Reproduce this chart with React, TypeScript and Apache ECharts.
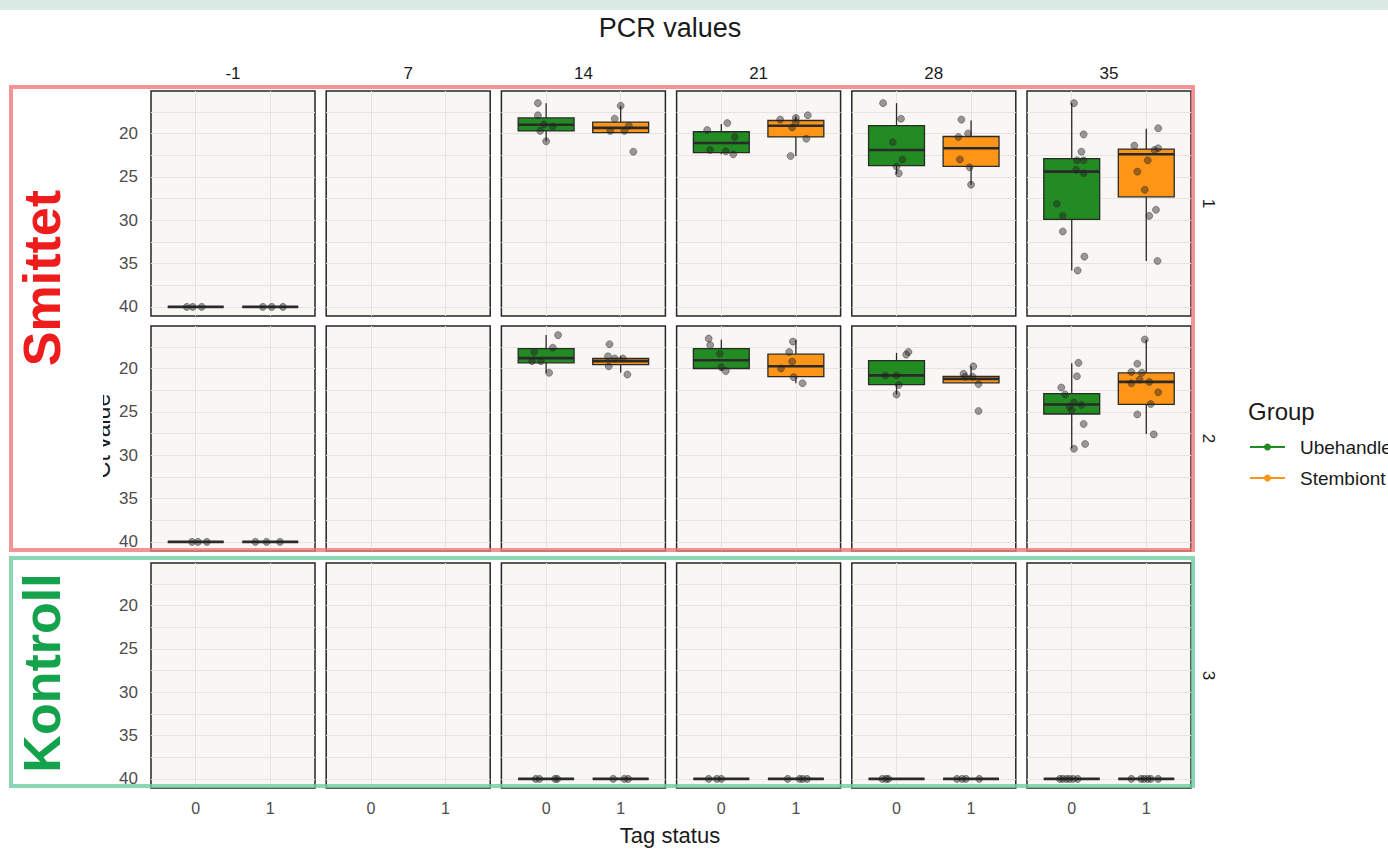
import React, { useEffect, useRef } from 'react';
import * as echarts from 'echarts';

// ---------- data ----------
const days = ['-1', '7', '14', '21', '28', '35'];
const rowLabels = ['1', '2', '3'];
const tagStatus = [0, 1];
const groups = ['Ubehandlet', 'Stembiont'];
const yTickLabels = [20, 25, 30, 35, 40];
const yGridValues = [17.5, 20, 22.5, 25, 27.5, 30, 32.5, 35, 37.5, 40];

// box stats per day: [min, q1, median, q3, max]
const row1Ubehandlet = [[40, 40, 40, 40, 40], null, [16.5, 18.2, 19.0, 19.7, 20.9], [18.9, 19.8, 21.1, 22.2, 22.4], [16.5, 19.1, 21.9, 23.7, 24.7], [16.5, 22.9, 24.4, 29.9, 35.8]];
const row1Stembiont = [[40, 40, 40, 40, 40], null, [16.8, 18.7, 19.35, 19.9, 19.9], [18.0, 18.5, 19.1, 20.4, 22.6], [18.5, 20.35, 21.7, 23.8, 25.9], [19.45, 21.8, 22.4, 27.3, 34.7]];
const row2Ubehandlet = [[40, 40, 40, 40, 40], null, [16.15, 17.7, 18.8, 19.35, 20.5], [16.7, 17.7, 19.05, 20.0, 20.3], [18.2, 19.1, 20.8, 21.85, 23.0], [19.4, 22.9, 24.15, 25.25, 29.2]];
const row2Stembiont = [[40, 40, 40, 40, 40], null, [18.6, 18.85, 19.15, 19.55, 20.5], [16.7, 18.35, 19.75, 20.95, 21.7], [19.75, 20.9, 21.2, 21.65, 21.65], [16.65, 20.5, 21.55, 24.15, 27.55]];
const row3Ubehandlet = [null, null, [40, 40, 40, 40, 40], [40, 40, 40, 40, 40], [40, 40, 40, 40, 40], [40, 40, 40, 40, 40]];
const row3Stembiont = [null, null, [40, 40, 40, 40, 40], [40, 40, 40, 40, 40], [40, 40, 40, 40, 40], [40, 40, 40, 40, 40]];

// jittered points per day: [x jitter, Ct value]
const row1UbehandletPts = [
  [[-0.12, 40], [-0.04, 40], [0.08, 40]],
  [],
  [[-0.11, 16.5], [-0.11, 17.9], [-0.03, 18.95], [0.09, 19.2], [-0.08, 19.7], [0, 20.9]],
  [[-0.19, 19.6], [0.08, 18.8], [0.18, 20.4], [-0.15, 21.9], [0.06, 22.05], [0.16, 22.4]],
  [[-0.18, 16.5], [0.06, 18.3], [-0.05, 21.0], [0.08, 23.0], [0, 23.8], [0.03, 24.6]],
  [[0.03, 16.5], [0.16, 20.1], [0.13, 22.1], [0.07, 23.1], [0.16, 23.1], [0.06, 24.2], [0.16, 24.6], [-0.2, 28.1], [-0.12, 29.5], [-0.12, 31.3], [0.17, 34.2], [0.08, 35.8]],
];
const row1StembiontPts = [
  [[-0.1, 40], [0.02, 40], [0.17, 40]],
  [],
  [[0, 16.8], [-0.08, 18.3], [0.11, 19.1], [-0.14, 19.7], [0.05, 19.7], [0.17, 22.1]],
  [[-0.21, 18.4], [0, 18.2], [0.16, 17.9], [-0.05, 19.3], [0, 18.7], [0.14, 20.6], [-0.07, 22.6]],
  [[-0.13, 18.4], [-0.04, 20.0], [-0.17, 20.4], [-0.15, 23.0], [-0.02, 23.9], [0, 25.9]],
  [[0.16, 19.4], [-0.16, 21.4], [0.16, 21.7], [0.11, 21.9], [0.02, 23.1], [-0.12, 24.4], [-0.02, 26.5], [0.13, 28.8], [0.04, 29.5], [0.15, 34.7]],
];
const row2UbehandletPts = [
  [[-0.05, 40], [0.03, 40], [0.15, 40]],
  [],
  [[0.16, 16.15], [0.09, 17.6], [-0.16, 18.1], [-0.19, 19.15], [-0.07, 19.15], [0.04, 20.5]],
  [[-0.17, 16.55], [-0.15, 17.3], [-0.02, 18.3], [0, 19.85], [0.06, 20.3]],
  [[0.13, 18.4], [0.16, 18.1], [-0.15, 20.8], [0, 20.8], [0.03, 21.9], [0, 23.0]],
  [[0.09, 19.35], [0.07, 20.9], [-0.14, 22.2], [-0.09, 23.0], [0.03, 23.9], [0.13, 24.2], [-0.03, 24.4], [0, 24.8], [0.16, 26.4], [0.18, 28.7], [0.03, 29.25]],
];
const row2StembiontPts = [
  [[-0.2, 40], [-0.05, 40], [0.13, 40]],
  [],
  [[-0.15, 17.2], [-0.17, 18.6], [-0.08, 18.85], [0.03, 18.85], [-0.16, 19.75], [0.09, 20.7]],
  [[-0.04, 16.9], [-0.09, 18.1], [-0.05, 19.2], [-0.2, 20.0], [-0.03, 21.0], [0.09, 21.7]],
  [[0.03, 19.75], [-0.1, 20.6], [-0.08, 20.95], [0.02, 20.95], [0.1, 21.8], [0.1, 24.9]],
  [[-0.02, 16.65], [-0.12, 19.45], [-0.2, 20.4], [-0.06, 20.5], [-0.09, 21.3], [-0.2, 21.7], [0.04, 21.55], [0.16, 22.75], [0.06, 24.1], [-0.12, 25.3], [0.1, 27.6]],
];
const row3UbehandletPts = [
  [], [],
  [[-0.14, 40], [-0.09, 40], [0.12, 40], [0.15, 40]],
  [[-0.17, 40], [-0.06, 40], [0, 40]],
  [[-0.19, 40], [-0.14, 40], [-0.11, 40]],
  [[-0.16, 40], [-0.12, 40], [-0.07, 40], [-0.03, 40], [0.02, 40], [0.08, 40]],
];
const row3StembiontPts = [
  [], [],
  [[-0.1, 40], [0.05, 40], [0.1, 40]],
  [[-0.11, 40], [0.05, 40], [0.09, 40], [0.15, 40]],
  [[-0.19, 40], [-0.12, 40], [-0.07, 40], [0.11, 40]],
  [[-0.2, 40], [-0.07, 40], [-0.03, 40], [0.02, 40], [0.06, 40], [0.16, 40]],
];

const boxesByRow = [[row1Ubehandlet, row1Stembiont], [row2Ubehandlet, row2Stembiont], [row3Ubehandlet, row3Stembiont]];
const ptsByRow = [[row1UbehandletPts, row1StembiontPts], [row2UbehandletPts, row2StembiontPts], [row3UbehandletPts, row3StembiontPts]];

// ---------- styles / layout ----------
const FONT = 'Liberation Sans, Arial, sans-serif';
const groupColors = ['#228B22', '#FF9516'];
const PANEL_LEFT = 151;
const PANEL_STEP = 175.2;
const PANEL_W = 164;
const PANEL_H = 225;
const ROW_TOPS = [91, 326, 563];
const Y_MIN = 15.1;
const Y_MAX = 41.05;

function buildOption() {
  const grid: any[] = [];
  const xAxis: any[] = [];
  const yAxis: any[] = [];
  const series: any[] = [];

  rowLabels.forEach((_, r) => {
    days.forEach((_, c) => {
      const gi = r * days.length + c;
      grid.push({
        left: PANEL_LEFT + PANEL_STEP * c,
        top: ROW_TOPS[r],
        width: PANEL_W,
        height: PANEL_H,
        show: true,
        backgroundColor: '#F9F7F4',
        borderColor: '#262626',
        borderWidth: 1.5,
        z: 0,
      });
      xAxis.push({
        type: 'value',
        gridIndex: gi,
        min: -0.6,
        max: 1.6,
        axisLine: { show: false },
        axisTick: { show: false, customValues: tagStatus },
        axisLabel: {
          show: r === rowLabels.length - 1,
          customValues: tagStatus,
          color: '#4D4D4D',
          fontSize: 16,
          fontFamily: FONT,
          margin: 12,
        },
        splitLine: { show: true, lineStyle: { color: '#E6E4E0', width: 1 } },
      });
      yAxis.push({
        type: 'value',
        gridIndex: gi,
        inverse: true,
        min: Y_MIN,
        max: Y_MAX,
        axisLine: { show: false },
        axisTick: { show: false, customValues: yGridValues },
        axisLabel: {
          show: c === 0,
          customValues: yTickLabels,
          color: '#4D4D4D',
          fontSize: 17,
          fontFamily: FONT,
          margin: 13,
        },
        splitLine: { show: true, lineStyle: { color: '#E6E4E0', width: 1 } },
      });

      tagStatus.forEach((t) => {
        const b = boxesByRow[r][t][c];
        if (b) {
          series.push({
            type: 'custom',
            name: groups[t],
            xAxisIndex: gi,
            yAxisIndex: gi,
            z: 2,
            encode: { x: 0, y: [1, 2, 3, 4, 5] },
            data: [[t, b[0], b[1], b[2], b[3], b[4]]],
            renderItem: (params: any, api: any) => {
              const x = api.value(0);
              const lo = api.coord([x, api.value(1)]);
              const q1 = api.coord([x, api.value(2)]);
              const md = api.coord([x, api.value(3)]);
              const q3 = api.coord([x, api.value(4)]);
              const hi = api.coord([x, api.value(5)]);
              const w = api.size([0.75, 0])[0];
              const left = q1[0] - w / 2;
              const stroke = '#2a2a2a';
              return {
                type: 'group',
                children: [
                  { type: 'line', shape: { x1: lo[0], y1: lo[1], x2: q1[0], y2: q1[1] }, style: { stroke, lineWidth: 1.3 } },
                  { type: 'line', shape: { x1: q3[0], y1: q3[1], x2: hi[0], y2: hi[1] }, style: { stroke, lineWidth: 1.3 } },
                  {
                    type: 'rect',
                    shape: { x: left, y: Math.min(q1[1], q3[1]), width: w, height: Math.abs(q3[1] - q1[1]) },
                    style: { fill: groupColors[t], stroke, lineWidth: 1.3 },
                  },
                  { type: 'line', shape: { x1: left, y1: md[1], x2: left + w, y2: md[1] }, style: { stroke, lineWidth: 2.6 } },
                ],
              };
            },
          });
        }
        const pts = ptsByRow[r][t][c];
        if (pts.length) {
          series.push({
            type: 'scatter',
            name: groups[t] + ' points',
            xAxisIndex: gi,
            yAxisIndex: gi,
            z: 3,
            symbol: 'circle',
            symbolSize: 7,
            itemStyle: { color: 'rgba(30,30,30,0.55)', borderColor: 'rgba(50,50,50,0.7)', borderWidth: 0.8 },
            data: pts.map((p) => [t + p[0], p[1]]),
          });
        }
      });
    });
  });

  const graphic: any[] = [];
  // top band
  graphic.push({ type: 'rect', shape: { x: 0, y: 0, width: 1388, height: 10 }, style: { fill: '#DCEAE6' }, z: 1 });
  // title
  graphic.push({
    type: 'text', x: 670, y: 28, z: 10,
    style: { text: 'PCR values', fontSize: 27, fontFamily: FONT, fill: '#1a1a1a', align: 'center', verticalAlign: 'middle' },
  });
  // x title
  graphic.push({
    type: 'text', x: 670, y: 835, z: 10,
    style: { text: 'Tag status', fontSize: 22, fontFamily: FONT, fill: '#1a1a1a', align: 'center', verticalAlign: 'middle' },
  });
  // column strips
  days.forEach((d, c) => {
    graphic.push({
      type: 'text', x: PANEL_LEFT + PANEL_STEP * c + PANEL_W / 2, y: 73, z: 10,
      style: { text: d, fontSize: 17, fontFamily: FONT, fill: '#1a1a1a', align: 'center', verticalAlign: 'middle' },
    });
  });
  // row strips
  rowLabels.forEach((lab, r) => {
    graphic.push({
      type: 'text', x: 1208, y: ROW_TOPS[r] + PANEL_H / 2, rotation: -Math.PI / 2, z: 10,
      style: { text: lab, fontSize: 17, fontFamily: FONT, fill: '#1a1a1a', align: 'center', verticalAlign: 'middle' },
    });
  });
  // y axis title (partly covered)
  graphic.push({
    type: 'text', x: 102, y: 436, rotation: Math.PI / 2, z: 20,
    style: { text: 'Ct value', fontSize: 23, fontFamily: FONT, fill: '#1a1a1a', align: 'center', verticalAlign: 'middle' },
  });
  graphic.push({ type: 'rect', shape: { x: 14, y: 380, width: 89, height: 120 }, style: { fill: '#ffffff' }, z: 21 });
  // group annotations
  graphic.push({
    type: 'text', x: 42, y: 278, rotation: Math.PI / 2, z: 22,
    style: { text: 'Smittet', fontSize: 52, fontWeight: 'bold', fontFamily: FONT, fill: '#EE1C1C', align: 'center', verticalAlign: 'middle' },
  });
  graphic.push({
    type: 'text', x: 42, y: 673, rotation: Math.PI / 2, z: 22,
    style: { text: 'Kontroll', fontSize: 52, fontWeight: 'bold', fontFamily: FONT, fill: '#14A24C', align: 'center', verticalAlign: 'middle' },
  });
  graphic.push({
    type: 'rect', z: 30, shape: { x: 11, y: 87, width: 1182, height: 463 },
    style: { fill: 'none', stroke: 'rgba(240,120,120,0.8)', lineWidth: 4 },
  });
  graphic.push({
    type: 'rect', z: 30, shape: { x: 11, y: 558, width: 1182, height: 228 },
    style: { fill: 'none', stroke: 'rgba(110,205,160,0.8)', lineWidth: 4 },
  });
  // legend
  graphic.push({
    type: 'text', x: 1248, y: 411, z: 10,
    style: { text: 'Group', fontSize: 24, fontFamily: FONT, fill: '#1a1a1a', align: 'left', verticalAlign: 'middle' },
  });
  groups.forEach((g, i) => {
    const y = 447 + i * 31;
    graphic.push({ type: 'line', z: 10, shape: { x1: 1250, y1: y, x2: 1285, y2: y }, style: { stroke: groupColors[i], lineWidth: 2.2 } });
    graphic.push({ type: 'circle', z: 11, shape: { cx: 1267.5, cy: y, r: 3.5 }, style: { fill: groupColors[i] } });
    graphic.push({
      type: 'text', x: 1300, y, z: 10,
      style: { text: g, fontSize: 19, fontFamily: FONT, fill: '#1a1a1a', align: 'left', verticalAlign: 'middle' },
    });
  });

  return {
    animation: false,
    backgroundColor: '#ffffff',
    grid,
    xAxis,
    yAxis,
    series,
    graphic,
  };
}

export default function App() {
  const ref = useRef<HTMLDivElement>(null);
  useEffect(() => {
    if (!ref.current) return;
    const chart = echarts.init(ref.current, undefined, { renderer: 'svg' });
    chart.setOption(buildOption() as any);
    return () => chart.dispose();
  }, []);
  return (
    <div
      ref={ref}
      style={{ position: 'absolute', left: 0, top: 0, width: 1388, height: 849, background: '#fff' }}
    />
  );
}
